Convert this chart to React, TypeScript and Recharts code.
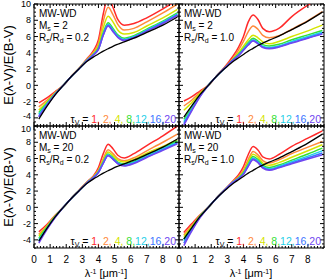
import { Line, LineChart, ReferenceLine, XAxis, YAxis } from "recharts";

// wavenumber grid (1/micron) shared by every curve
const xGrid = [0.3, 0.8, 1.3, 1.82, 2.27, 2.8, 3.3, 3.7, 4.0, 4.3, 4.6, 4.9, 5.2, 5.6, 6.2, 7.0, 8.0, 8.9];

const tauValues = ["1", "2", "4", "8", "12", "16", "20"];
const tauColors = ["#ff2a2a", "#ff8a3d", "#d4e400", "#33e033", "#1fd0e8", "#3a74ff", "#7046f0"];

// intrinsic curves (black), one per Rs/Rd
const blackRd02 = [-4.15, -2.6, -1.2, 0, 1, 2.05, 2.95, 3.5, 3.85, 4.2, 4.5, 4.8, 5.05, 5.35, 5.8, 6.5, 7.4, 8.4];
const blackRd10 = [-3.9, -2.5, -1.15, 0, 1, 2.0, 2.85, 3.4, 3.8, 4.2, 4.55, 4.9, 5.2, 5.55, 6.05, 6.85, 7.9, 9.0];

// Ms = 2, Rs/Rd = 0.2  (rows: tau 1, 2, 4, 8, 12, 16, 20)
const ms2rd02 = [
  [-2.15, -1.55, -0.8, 0, 1, 2.1, 3.3, 4.3, 5.6, 8.8, 10.9, 9.6, 8.1, 7.4, 7.6, 8.3, 9.4, 10.5],
  [-2.65, -1.85, -0.9, 0, 1, 2.08, 3.2, 4.1, 5.2, 7.9, 9.6, 8.7, 7.5, 6.8, 7.0, 7.8, 8.9, 10.0],
  [-3.05, -2.05, -1.0, 0, 1, 2.07, 3.15, 3.95, 4.85, 7.1, 8.5, 7.8, 6.8, 6.3, 6.5, 7.3, 8.3, 9.35],
  [-3.35, -2.2, -1.05, 0, 1, 2.06, 3.1, 3.85, 4.6, 6.5, 7.7, 7.0, 6.2, 5.8, 6.1, 6.9, 7.9, 8.9],
  [-3.55, -2.3, -1.1, 0, 1, 2.06, 3.1, 3.8, 4.5, 6.3, 7.5, 6.8, 6.05, 5.65, 6.0, 6.8, 7.8, 8.8],
  [-3.75, -2.4, -1.12, 0, 1, 2.05, 3.05, 3.78, 4.45, 6.2, 7.4, 6.7, 5.95, 5.55, 5.9, 6.7, 7.7, 8.7],
  [-3.9, -2.45, -1.15, 0, 1, 2.05, 3.05, 3.75, 4.42, 6.15, 7.3, 6.6, 5.9, 5.5, 5.85, 6.65, 7.6, 8.6],
];

// Ms = 2, Rs/Rd = 1.0
const ms2rd10 = [
  [-1.93, -1.4, -0.7, 0, 1, 2.15, 3.45, 4.7, 6.0, 7.8, 8.65, 8.1, 7.0, 6.6, 7.0, 8.45, 9.85, 10.9],
  [-2.54, -1.8, -0.85, 0, 1, 2.1, 3.15, 4.35, 5.4, 6.6, 7.3, 6.9, 6.15, 5.85, 6.1, 6.9, 7.95, 9.05],
  [-3.07, -2.1, -1.0, 0, 1, 2.08, 3.1, 4.0, 4.8, 5.6, 6.15, 5.85, 5.35, 5.1, 5.4, 6.0, 6.7, 7.4],
  [-4.18, -2.75, -1.25, 0, 1, 2.05, 3.05, 3.85, 4.5, 5.25, 5.78, 5.45, 5.0, 4.83, 5.05, 5.6, 6.2, 6.76],
  [-4.47, -2.9, -1.3, 0, 1, 2.05, 3.0, 3.75, 4.4, 5.1, 5.6, 5.25, 4.8, 4.65, 4.85, 5.4, 6.0, 6.55],
  [-4.7, -3.0, -1.35, 0, 1, 2.05, 3.0, 3.7, 4.35, 5.0, 5.5, 5.15, 4.7, 4.55, 4.75, 5.25, 5.85, 6.4],
  [-4.9, -3.1, -1.4, 0, 1, 2.05, 3.0, 3.65, 4.3, 4.95, 5.45, 5.1, 4.65, 4.5, 4.7, 5.2, 5.8, 6.3],
];

// Ms = 20, Rs/Rd = 0.2
const ms20rd02 = [
  [-3.0, -2.1, -1.0, 0, 1, 2.1, 3.15, 3.9, 4.9, 6.6, 7.76, 7.2, 6.4, 6.06, 6.6, 7.6, 8.8, 10.0],
  [-3.3, -2.25, -1.05, 0, 1, 2.08, 3.1, 3.8, 4.6, 6.0, 7.07, 6.6, 6.0, 5.73, 6.1, 6.95, 8.0, 9.0],
  [-3.5, -2.35, -1.1, 0, 1, 2.07, 3.08, 3.75, 4.5, 5.8, 6.8, 6.35, 5.8, 5.57, 5.9, 6.65, 7.5, 8.3],
  [-3.8, -2.45, -1.15, 0, 1, 2.06, 3.05, 3.7, 4.4, 5.6, 6.55, 6.1, 5.55, 5.33, 5.65, 6.4, 7.3, 8.15],
  [-4.0, -2.55, -1.2, 0, 1, 2.06, 3.05, 3.68, 4.35, 5.5, 6.46, 6.0, 5.47, 5.25, 5.55, 6.3, 7.2, 8.0],
  [-4.2, -2.65, -1.25, 0, 1, 2.05, 3.03, 3.66, 4.3, 5.45, 6.38, 5.95, 5.4, 5.16, 5.45, 6.2, 7.1, 7.9],
  [-4.4, -2.75, -1.3, 0, 1, 2.05, 3.02, 3.65, 4.28, 5.42, 6.34, 5.9, 5.35, 5.08, 5.38, 6.12, 7.0, 7.8],
];

// Ms = 20, Rs/Rd = 1.0
const ms20rd10 = [
  [-3.1, -2.0, -0.95, 0, 1, 2.1, 3.15, 4.0, 5.0, 6.5, 7.48, 7.05, 6.2, 5.95, 6.5, 7.5, 8.5, 9.4],
  [-3.4, -2.2, -1.0, 0, 1, 2.08, 3.08, 3.8, 4.6, 5.9, 6.87, 6.45, 5.75, 5.45, 5.85, 6.6, 7.4, 8.1],
  [-3.6, -2.35, -1.05, 0, 1, 2.07, 3.05, 3.7, 4.4, 5.6, 6.54, 6.15, 5.45, 5.16, 5.5, 6.15, 6.95, 7.7],
  [-3.9, -2.5, -1.1, 0, 1, 2.06, 3.02, 3.62, 4.25, 5.35, 6.26, 5.88, 5.2, 4.9, 5.2, 5.8, 6.55, 7.28],
  [-4.1, -2.6, -1.15, 0, 1, 2.06, 3.0, 3.58, 4.15, 5.2, 6.06, 5.7, 5.02, 4.75, 5.05, 5.6, 6.3, 6.95],
  [-4.4, -2.75, -1.22, 0, 1, 2.05, 3.0, 3.55, 4.1, 5.1, 5.93, 5.58, 4.9, 4.63, 4.92, 5.45, 6.1, 6.67],
  [-4.7, -2.9, -1.3, 0, 1, 2.05, 2.98, 3.52, 4.05, 5.05, 5.85, 5.5, 4.82, 4.55, 4.85, 5.35, 5.95, 6.46],
];

const xMajor = [0, 1, 2, 3, 4, 5, 6, 7, 8];
const yMajor = [-4, -2, 0, 2, 4, 6, 8, 10];

const FONT = "'Liberation Sans', Arial, Helvetica, sans-serif";
const W = 145;
const H = 122;
const COLS = [34, 179];
const ROWS = [4, 126];

const steps = (from: number, to: number, step: number) => {
  const out: number[] = [];
  for (let i = 0; from + i * step <= to + 1e-9; i++) out.push(Math.round((from + i * step) * 100) / 100);
  return out;
};
const xTicks = steps(0, 9, 0.2);
const yTicks = steps(-5, 10, 0.5);
const isMajor = (v: number, list: number[]) => list.some((m) => Math.abs(m - v) < 1e-6);

const panels = [
  { curves: ms2rd02, black: blackRd02, ms: "2", rs: "0.2", col: 0, row: 0 },
  { curves: ms2rd10, black: blackRd10, ms: "2", rs: "1.0", col: 1, row: 0 },
  { curves: ms20rd02, black: blackRd02, ms: "20", rs: "0.2", col: 0, row: 1 },
  { curves: ms20rd10, black: blackRd10, ms: "20", rs: "1.0", col: 1, row: 1 },
];

function Panel({ p }: { p: (typeof panels)[number] }) {
  const left = COLS[p.col];
  const top = ROWS[p.row];
  const showX = p.row === 1;
  const showY = p.col === 0;
  const data = xGrid.map((x, i) => {
    const row: Record<string, number> = { x, k0: p.black[i] };
    p.curves.forEach((c, j) => (row["t" + j] = c[i]));
    return row;
  });

  const xTick = (props: any) => {
    const { x, y, payload } = props;
    const major = isMajor(payload.value, xMajor);
    const len = major ? 4 : 2;
    return (
      <g>
        <line x1={x} x2={x} y1={y} y2={y - len} stroke="#000" />
        <line x1={x} x2={x} y1={y - H} y2={y - H + len} stroke="#000" />
        {showX && major ? (
          <text x={x} y={y + 15} textAnchor="middle" fontSize={10} fontFamily={FONT} fill="#000">
            {payload.value}
          </text>
        ) : null}
      </g>
    );
  };

  const yTick = (props: any) => {
    const { x, y, payload } = props;
    const major = isMajor(payload.value, yMajor);
    const len = major ? 4 : 2;
    // nudge the labels that meet at the shared edge between the two rows
    let shift = 3.2;
    if (p.row === 1 && payload.value === 10) shift = 5.5;
    if (p.row === 0 && payload.value === -4) shift = 1.5;
    return (
      <g>
        <line x1={x} x2={x + len} y1={y} y2={y} stroke="#000" />
        <line x1={x + W} x2={x + W - len} y1={y} y2={y} stroke="#000" />
        {showY && major ? (
          <text x={x - 3} y={y + shift} textAnchor="end" fontSize={9} fontFamily={FONT} fill="#000">
            {payload.value}
          </text>
        ) : null}
      </g>
    );
  };

  return (
    <div style={{ position: "absolute", left: 0, top: 0 }}>
      <LineChart
        width={326}
        height={280}
        data={data}
        margin={{ top, left: left - 30, right: 326 - left - W, bottom: 280 - top - H - 30 }}
      >
        <XAxis
          dataKey="x"
          type="number"
          domain={[0, 9]}
          ticks={xTicks}
          interval={0}
          allowDataOverflow
          height={30}
          tickSize={0}
          tickMargin={0}
          tickLine={false}
          axisLine={{ stroke: "#000" }}
          tick={xTick}
        />
        <YAxis
          type="number"
          domain={[-5, 10]}
          ticks={yTicks}
          interval={0}
          allowDataOverflow
          width={30}
          tickSize={0}
          tickMargin={0}
          tickLine={false}
          axisLine={{ stroke: "#000" }}
          tick={yTick}
        />
        <ReferenceLine y={10} stroke="#000" />
        <ReferenceLine x={9} stroke="#000" />
        {tauValues.map((t, j) => (
          <Line
            key={t}
            dataKey={"t" + j}
            type="monotone"
            stroke={tauColors[j]}
            strokeWidth={1.5}
            dot={false}
            isAnimationActive={false}
          />
        ))}
        <Line dataKey="k0" type="monotone" stroke="#000" strokeWidth={1.3} dot={false} isAnimationActive={false} />
      </LineChart>
    </div>
  );
}

function PanelText({ p }: { p: (typeof panels)[number] }) {
  const left = COLS[p.col];
  const top = ROWS[p.row];
  const sub = { fontSize: 7 };
  return (
    <g fontFamily={FONT} fill="#000">
      <text x={left + 5} y={top + 13} fontSize={10}>
        MW-WD
      </text>
      <text x={left + 5} y={top + 25} fontSize={10}>
        M<tspan {...sub} dy={2}>s</tspan>
        <tspan dy={-2}>{p.ms.length === 1 ? " =  " + p.ms : " = " + p.ms}</tspan>
      </text>
      <text x={left + 5} y={top + 37} fontSize={10}>
        R<tspan {...sub} dy={2}>s</tspan>
        <tspan dy={-2}>/R</tspan>
        <tspan {...sub} dy={2}>d</tspan>
        <tspan dy={-2}>{" = " + p.rs}</tspan>
      </text>
      <text x={left + W - 3} y={top + H - 3} fontSize={10.5} textAnchor="end">
        τ<tspan {...sub} dy={2}>V</tspan>
        <tspan dy={-2}> = </tspan>
        {tauValues.map((t, j) => (
          <tspan key={t} fill={tauColors[j]}>
            {t + (j < 3 ? ", " : j < 6 ? "," : "")}
          </tspan>
        ))}
      </text>
    </g>
  );
}

export default function App() {
  return (
    <div style={{ position: "absolute", left: 0, top: 0, width: 326, height: 280, background: "#fff" }}>
      {panels.map((p, i) => (
        <Panel key={i} p={p} />
      ))}
      <svg width={326} height={280} style={{ position: "absolute", left: 0, top: 0, pointerEvents: "none" }}>
        {panels.map((p, i) => (
          <PanelText key={i} p={p} />
        ))}
        {ROWS.map((top, i) => (
          <text
            key={"yl" + i}
            transform={`translate(13,${top + H / 2}) rotate(-90)`}
            textAnchor="middle"
            fontSize={13}
            fontFamily={FONT}
          >
            E(λ-V)/E(B-V)
          </text>
        ))}
        {COLS.map((left, i) => (
          <text key={"xl" + i} x={left + 72} y={277} textAnchor="middle" fontSize={11} fontFamily={FONT}>
            λ<tspan fontSize={7} dy={-3.5}>-1</tspan>
            <tspan dy={3.5}> [μm</tspan>
            <tspan fontSize={7} dy={-3.5}>-1</tspan>
            <tspan dy={3.5}>]</tspan>
          </text>
        ))}
      </svg>
    </div>
  );
}
